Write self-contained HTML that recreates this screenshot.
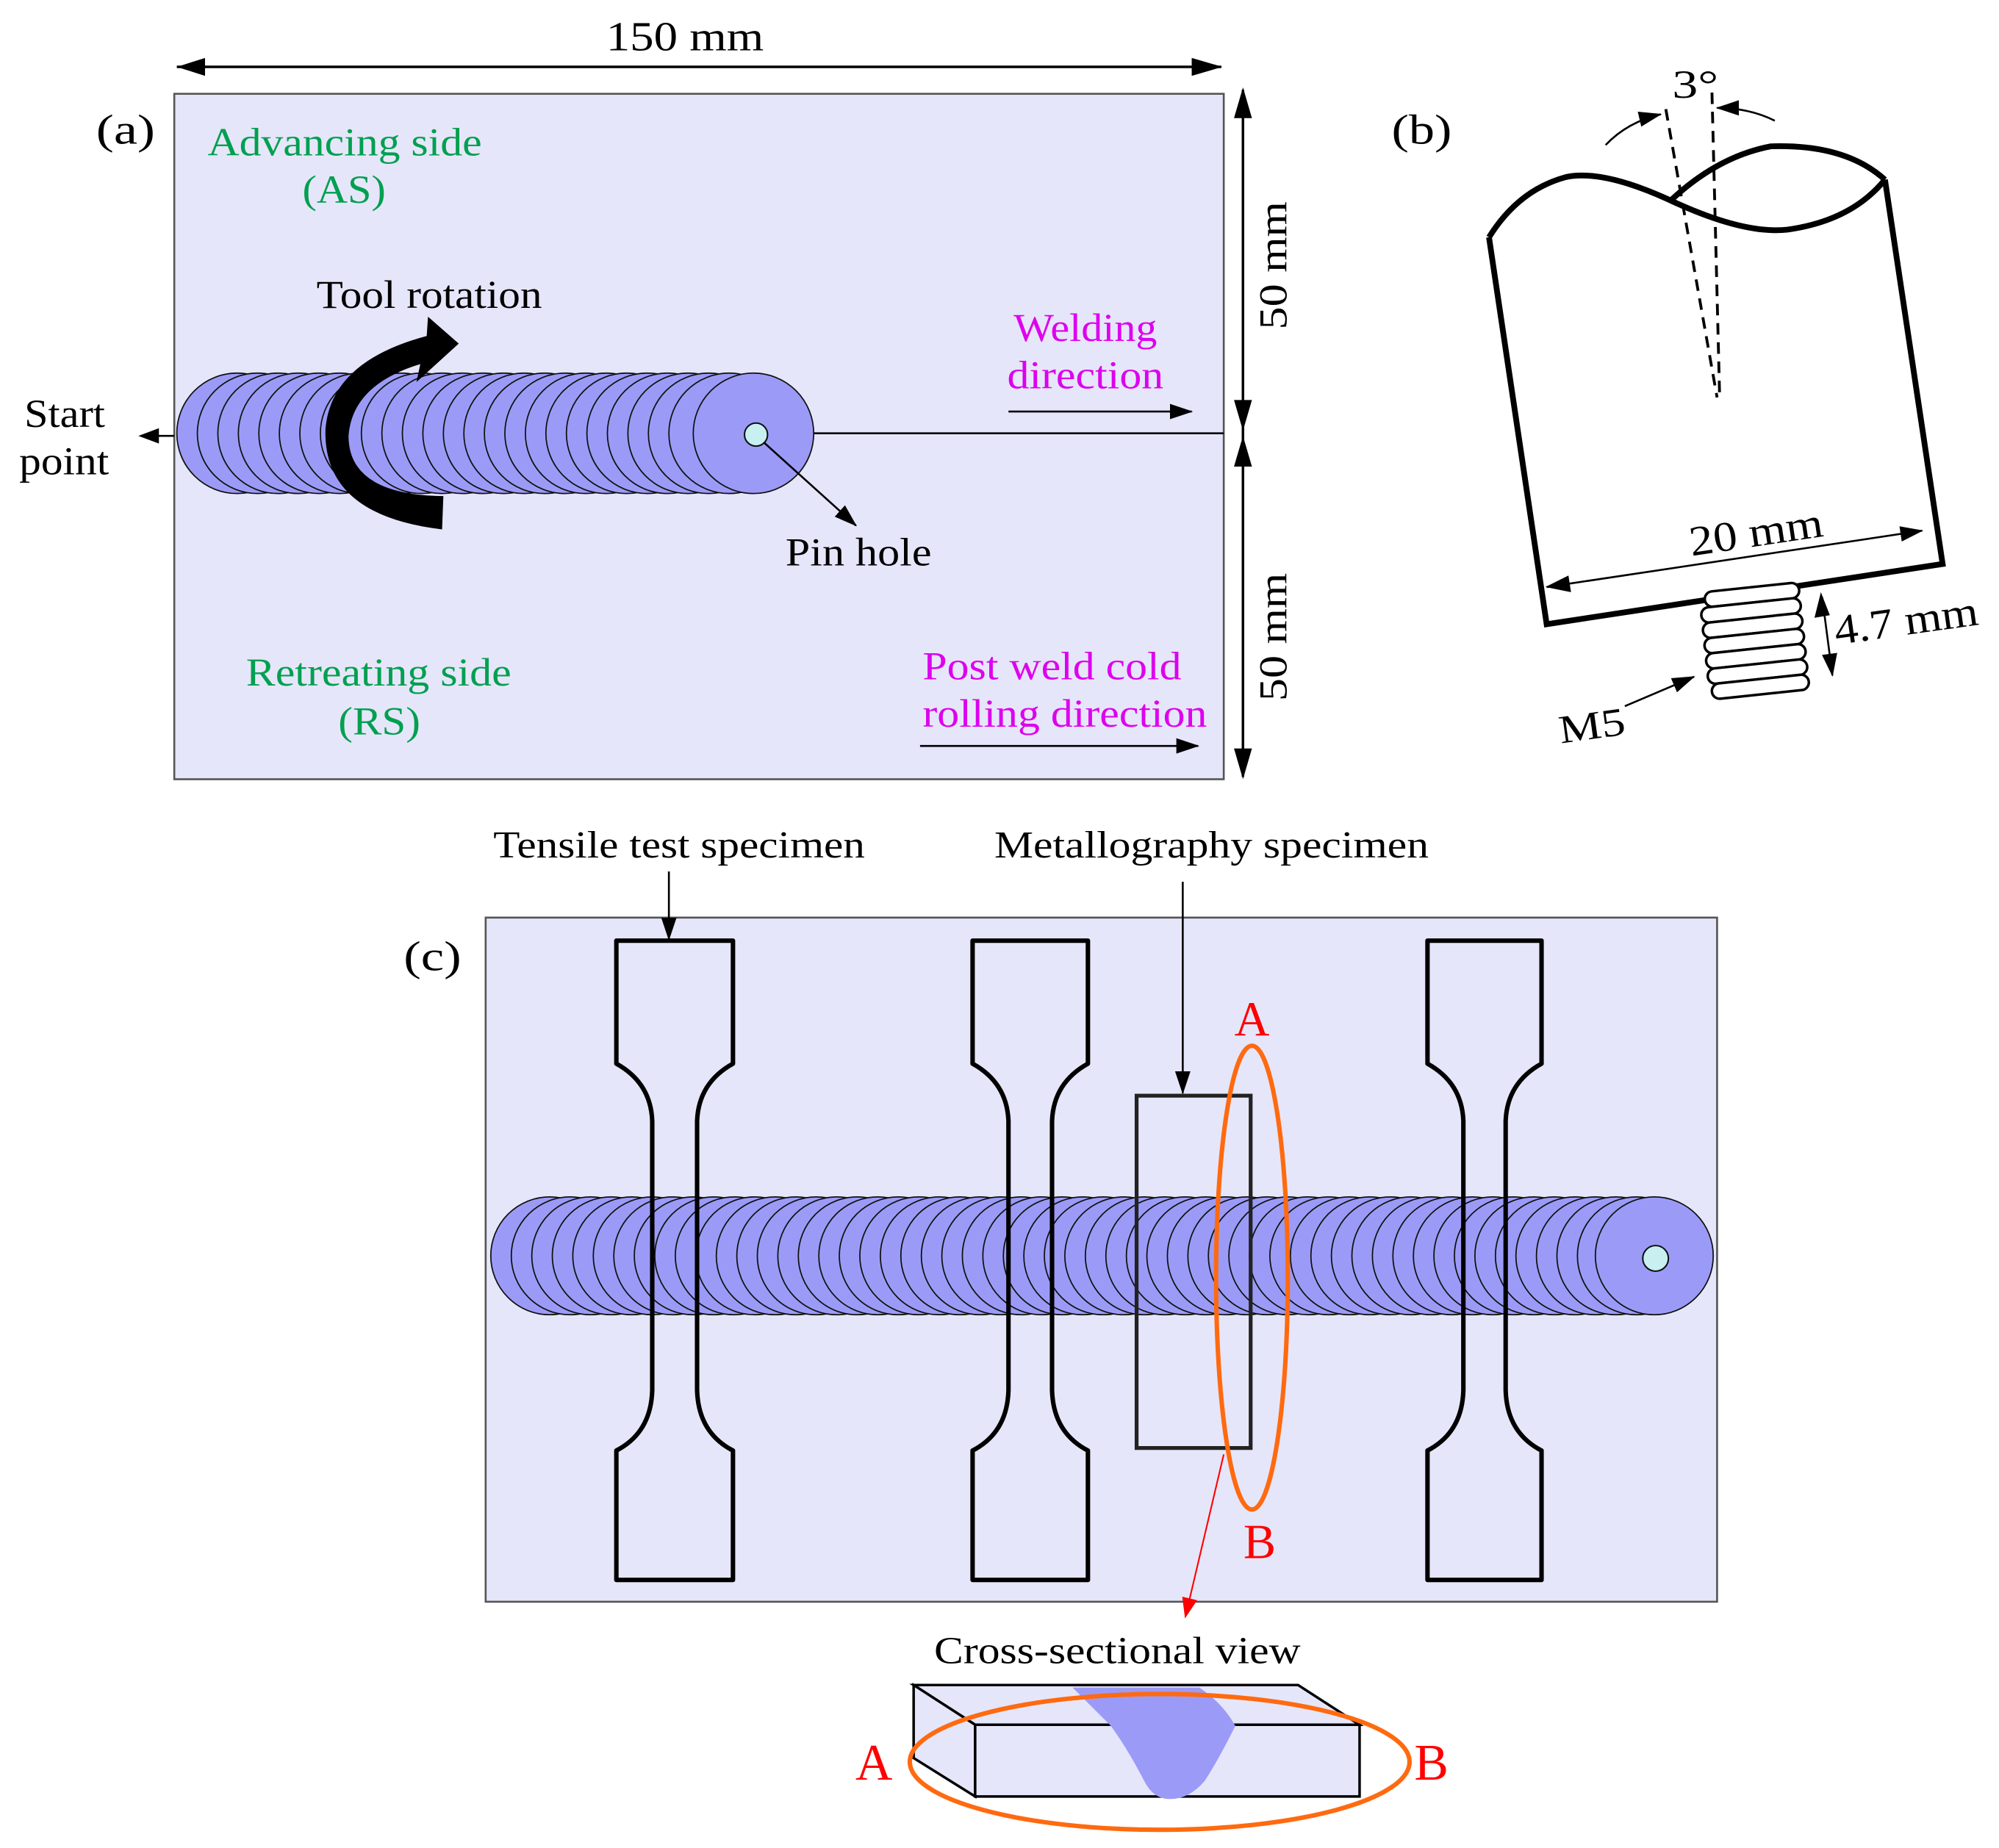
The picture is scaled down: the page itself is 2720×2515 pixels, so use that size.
<!DOCTYPE html>
<html><head><meta charset="utf-8"><style>html,body{margin:0;padding:0;background:#fff}svg{display:block}svg text{font-family:"Liberation Serif","Times New Roman",serif}</style></head>
<body>
<svg width="2720" height="2515" viewBox="0 0 1560 1442" xmlns="http://www.w3.org/2000/svg" font-family="'Liberation Serif', serif">
<defs>
<marker id="ahL" markerWidth="24" markerHeight="14" refX="23" refY="7" orient="auto" markerUnits="userSpaceOnUse"><path d="M0,0 L24,7 L0,14 Z" fill="#000"/></marker>
<marker id="ahM" markerWidth="18" markerHeight="12" refX="17" refY="6" orient="auto" markerUnits="userSpaceOnUse"><path d="M0,0 L18,6 L0,12 Z" fill="#000"/></marker>
<marker id="ahR" markerWidth="16" markerHeight="12" refX="15" refY="6" orient="auto" markerUnits="userSpaceOnUse"><path d="M0,0 L16,6 L0,12 Z" fill="#f00"/></marker>
</defs>

<!-- Panel (a) -->
<text x="473" y="39" font-size="32" textLength="123" lengthAdjust="spacingAndGlyphs">150 mm</text>
<line x1="138" y1="52" x2="953" y2="52" stroke="#000" stroke-width="2" marker-end="url(#ahL)"/>
<path d="M138,52 L160,45 L160,59 Z" fill="#000"/>
<rect x="136" y="73" width="819" height="535" fill="#e6e6fa" stroke="#555" stroke-width="1.5"/>
<text x="75" y="112" font-size="33" textLength="46" lengthAdjust="spacingAndGlyphs">(a)</text>
<g fill="#00a050" font-size="31">
<text x="162" y="121" textLength="214" lengthAdjust="spacingAndGlyphs">Advancing side</text><text x="236" y="158" textLength="65" lengthAdjust="spacingAndGlyphs">(AS)</text>
<text x="192" y="535" textLength="207" lengthAdjust="spacingAndGlyphs">Retreating side</text><text x="264" y="573" textLength="64" lengthAdjust="spacingAndGlyphs">(RS)</text>
</g>
<line x1="635" y1="338" x2="955" y2="338" stroke="#000" stroke-width="1.5"/>
<g fill="#9b9bf7" stroke="#111" stroke-width="1">
<circle cx="185" cy="338" r="47"/><circle cx="201" cy="338" r="47"/><circle cx="217" cy="338" r="47"/><circle cx="233" cy="338" r="47"/><circle cx="249" cy="338" r="47"/><circle cx="265" cy="338" r="47"/><circle cx="281" cy="338" r="47"/><circle cx="297" cy="338" r="47"/><circle cx="313" cy="338" r="47"/><circle cx="329" cy="338" r="47"/><circle cx="345" cy="338" r="47"/><circle cx="361" cy="338" r="47"/><circle cx="377" cy="338" r="47"/><circle cx="393" cy="338" r="47"/><circle cx="409" cy="338" r="47"/><circle cx="425" cy="338" r="47"/><circle cx="441" cy="338" r="47"/><circle cx="457" cy="338" r="47"/><circle cx="473" cy="338" r="47"/><circle cx="489" cy="338" r="47"/><circle cx="505" cy="338" r="47"/><circle cx="521" cy="338" r="47"/><circle cx="537" cy="338" r="47"/><circle cx="553" cy="338" r="47"/><circle cx="569" cy="338" r="47"/><circle cx="588" cy="338" r="47"/>
</g>
<circle cx="590" cy="339" r="9" fill="#c8f0f0" stroke="#111" stroke-width="1.2"/>
<path d="M345,413 Q252,402 254,335 Q258,282 333,262 L334,247 L358,268 L325,298 L328,284 Q275,300 272,340 Q272,386 346,387 Z" fill="#000"/>
<text x="247" y="240" font-size="31" textLength="176" lengthAdjust="spacingAndGlyphs">Tool rotation</text>
<text x="19" y="333" font-size="31" textLength="63" lengthAdjust="spacingAndGlyphs">Start</text>
<text x="15" y="370" font-size="31" textLength="70" lengthAdjust="spacingAndGlyphs">point</text>
<line x1="136" y1="340" x2="110" y2="340" stroke="#000" stroke-width="1.5"/>
<path d="M108,340 L124,334 L124,346 Z" fill="#000"/>
<line x1="596" y1="345" x2="668" y2="410" stroke="#000" stroke-width="1.5" marker-end="url(#ahM)"/>
<text x="613" y="441" font-size="31" textLength="114" lengthAdjust="spacingAndGlyphs">Pin hole</text>
<g fill="#dd00ee" font-size="31">
<text x="791" y="266" textLength="112" lengthAdjust="spacingAndGlyphs">Welding</text><text x="786" y="303" textLength="122" lengthAdjust="spacingAndGlyphs">direction</text>
<text x="720" y="530" textLength="202" lengthAdjust="spacingAndGlyphs">Post weld cold</text><text x="720" y="567" textLength="222" lengthAdjust="spacingAndGlyphs">rolling direction</text>
</g>
<line x1="787" y1="321" x2="930" y2="321" stroke="#000" stroke-width="1.5" marker-end="url(#ahM)"/>
<line x1="718" y1="582" x2="935" y2="582" stroke="#000" stroke-width="1.5" marker-end="url(#ahM)"/>
<line x1="970" y1="70" x2="970" y2="606" stroke="#000" stroke-width="2"/>
<path d="M970,68 L963,92 L977,92 Z M970,336 L963,312 L977,312 Z M970,340 L963,364 L977,364 Z M970,608 L963,584 L977,584 Z" fill="#000"/>
<text transform="translate(1004,257) rotate(-90)" font-size="31" textLength="100" lengthAdjust="spacingAndGlyphs">50 mm</text>
<text transform="translate(1004,547) rotate(-90)" font-size="31" textLength="100" lengthAdjust="spacingAndGlyphs">50 mm</text>

<!-- Panel (b) -->
<text x="1086" y="112" font-size="33" textLength="47" lengthAdjust="spacingAndGlyphs">(b)</text>
<path d="M1471,140 L1516,440 L1207,487 L1162,185" fill="none" stroke="#000" stroke-width="4.5" stroke-linejoin="miter"/>
<path d="M1162,185 Q1185,148 1222,138 Q1250,132 1301,155 Q1360,183 1395,179 Q1445,172 1471,140" fill="none" stroke="#000" stroke-width="4.5"/>
<path d="M1303,157 Q1340,122 1382,114 Q1440,112 1471,140" fill="none" stroke="#000" stroke-width="4.5"/>
<line x1="1300" y1="85" x2="1340" y2="310" stroke="#000" stroke-width="2.2" stroke-dasharray="9,6"/>
<line x1="1336" y1="72" x2="1342" y2="310" stroke="#000" stroke-width="2.2" stroke-dasharray="9,6"/>
<text x="1305" y="76" font-size="31" textLength="36" lengthAdjust="spacingAndGlyphs">3°</text>
<path d="M1253,113 Q1270,95 1296,89" fill="none" stroke="#000" stroke-width="1.5" marker-end="url(#ahM)"/>
<path d="M1385,94 Q1365,84 1340,84" fill="none" stroke="#000" stroke-width="1.5" marker-end="url(#ahM)"/>
<line x1="1207" y1="458" x2="1500" y2="414" stroke="#000" stroke-width="1.5" marker-end="url(#ahM)"/>
<path d="M1206,458 L1224,449 L1226,462 Z" fill="#000"/>
<text transform="translate(1372,426) rotate(-8.5)" font-size="33" text-anchor="middle" textLength="105" lengthAdjust="spacingAndGlyphs">20 mm</text>
<g transform="rotate(-6 1370 500)" fill="#fff" stroke="#000" stroke-width="2">
<rect x="1334" y="458" width="74" height="12" rx="6"/>
<rect x="1330" y="470" width="78" height="12" rx="6"/>
<rect x="1330" y="482" width="78" height="12" rx="6"/>
<rect x="1330" y="494" width="78" height="12" rx="6"/>
<rect x="1330" y="506" width="78" height="12" rx="6"/>
<rect x="1330" y="518" width="78" height="12" rx="6"/>
<rect x="1332" y="530" width="76" height="12" rx="6"/>
</g>
<line x1="1422" y1="466" x2="1430" y2="527" stroke="#000" stroke-width="1.5" marker-end="url(#ahM)"/>
<path d="M1421,462 L1416,482 L1428,480 Z" fill="#000"/>
<text transform="translate(1433,503) rotate(-8)" font-size="33" textLength="113" lengthAdjust="spacingAndGlyphs">4.7 mm</text>
<line x1="1268" y1="551" x2="1322" y2="528" stroke="#000" stroke-width="1.5" marker-end="url(#ahM)"/>
<text transform="translate(1218,580) rotate(-8)" font-size="31" textLength="52" lengthAdjust="spacingAndGlyphs">M5</text>

<!-- Panel (c) -->
<text x="385" y="669" font-size="30" textLength="290" lengthAdjust="spacingAndGlyphs">Tensile test specimen</text>
<text x="776" y="669" font-size="30" textLength="339" lengthAdjust="spacingAndGlyphs">Metallography specimen</text>
<rect x="379" y="716" width="961" height="534" fill="#e6e6fa" stroke="#555" stroke-width="1.5"/>
<text x="315" y="757" font-size="33" textLength="45" lengthAdjust="spacingAndGlyphs">(c)</text>
<g fill="#9b9bf7" stroke="#111" stroke-width="1">
<circle cx="429" cy="980" r="46"/><circle cx="445" cy="980" r="46"/><circle cx="461" cy="980" r="46"/><circle cx="477" cy="980" r="46"/><circle cx="493" cy="980" r="46"/><circle cx="509" cy="980" r="46"/><circle cx="525" cy="980" r="46"/><circle cx="541" cy="980" r="46"/><circle cx="557" cy="980" r="46"/><circle cx="573" cy="980" r="46"/><circle cx="589" cy="980" r="46"/><circle cx="605" cy="980" r="46"/><circle cx="621" cy="980" r="46"/><circle cx="637" cy="980" r="46"/><circle cx="653" cy="980" r="46"/><circle cx="669" cy="980" r="46"/><circle cx="685" cy="980" r="46"/><circle cx="701" cy="980" r="46"/><circle cx="717" cy="980" r="46"/><circle cx="733" cy="980" r="46"/><circle cx="749" cy="980" r="46"/><circle cx="765" cy="980" r="46"/><circle cx="781" cy="980" r="46"/><circle cx="797" cy="980" r="46"/><circle cx="813" cy="980" r="46"/><circle cx="829" cy="980" r="46"/><circle cx="845" cy="980" r="46"/><circle cx="861" cy="980" r="46"/><circle cx="877" cy="980" r="46"/><circle cx="893" cy="980" r="46"/><circle cx="909" cy="980" r="46"/><circle cx="925" cy="980" r="46"/><circle cx="941" cy="980" r="46"/><circle cx="957" cy="980" r="46"/><circle cx="973" cy="980" r="46"/><circle cx="989" cy="980" r="46"/><circle cx="1005" cy="980" r="46"/><circle cx="1021" cy="980" r="46"/><circle cx="1037" cy="980" r="46"/><circle cx="1053" cy="980" r="46"/><circle cx="1069" cy="980" r="46"/><circle cx="1085" cy="980" r="46"/><circle cx="1101" cy="980" r="46"/><circle cx="1117" cy="980" r="46"/><circle cx="1133" cy="980" r="46"/><circle cx="1149" cy="980" r="46"/><circle cx="1165" cy="980" r="46"/><circle cx="1181" cy="980" r="46"/><circle cx="1197" cy="980" r="46"/><circle cx="1213" cy="980" r="46"/><circle cx="1229" cy="980" r="46"/><circle cx="1245" cy="980" r="46"/><circle cx="1261" cy="980" r="46"/><circle cx="1277" cy="980" r="46"/><circle cx="1291" cy="980" r="46"/>
</g>
<circle cx="1292" cy="982" r="10" fill="#c8f0f0" stroke="#111" stroke-width="1.2"/>
<g fill="none" stroke="#000" stroke-width="3.5" stroke-linejoin="round">
<path d="M481,734 L572,734 L572,830 Q545,845 544,875 L544,1085 Q545,1118 572,1132 L572,1233 L481,1233 L481,1132 Q508,1118 509,1085 L509,875 Q508,845 481,830 Z"/>
<path d="M759,734 L849,734 L849,830 Q822,845 821,875 L821,1085 Q822,1118 849,1132 L849,1233 L759,1233 L759,1132 Q786,1118 787,1085 L787,875 Q786,845 759,830 Z"/>
<path d="M1114,734 L1203,734 L1203,830 Q1176,845 1175,875 L1175,1085 Q1176,1118 1203,1132 L1203,1233 L1114,1233 L1114,1132 Q1141,1118 1142,1085 L1142,875 Q1141,845 1114,830 Z"/>
</g>
<rect x="887" y="855" width="89" height="275" fill="none" stroke="#222" stroke-width="3"/>
<line x1="522" y1="680" x2="522" y2="733" stroke="#000" stroke-width="1.5" marker-end="url(#ahM)"/>
<line x1="923" y1="688" x2="923" y2="853" stroke="#000" stroke-width="1.5" marker-end="url(#ahM)"/>
<ellipse cx="977" cy="997" rx="28" ry="181" fill="none" stroke="#ff6a10" stroke-width="3.5"/>
<text x="977" y="808" font-size="38" fill="#f00" text-anchor="middle">A</text>
<text x="983" y="1216" font-size="38" fill="#f00" text-anchor="middle">B</text>
<line x1="955" y1="1135" x2="925" y2="1262" stroke="#f00" stroke-width="1.2" marker-end="url(#ahR)"/>
<text x="729" y="1298" font-size="30" textLength="286" lengthAdjust="spacingAndGlyphs">Cross-sectional view</text>
<polygon points="713,1315 1013,1315 1061,1346 761,1346" fill="#e6e6fa" stroke="#000" stroke-width="2"/>
<polygon points="713,1315 761,1346 761,1402 713,1372" fill="#e6e6fa" stroke="#000" stroke-width="2"/>
<rect x="761" y="1346" width="300" height="56" fill="#e6e6fa" stroke="#000" stroke-width="2"/>
<path d="M837,1317 L936,1317 Q955,1330 964,1347 Q950,1375 940,1390 Q928,1404 913,1404 Q900,1404 893,1390 Q880,1365 867,1347 Q850,1330 837,1317 Z" fill="#9b9bf7"/>
<ellipse cx="905" cy="1375" rx="195" ry="53" fill="none" stroke="#ff6a10" stroke-width="3.5"/>
<text x="682" y="1389" font-size="40" fill="#f00" text-anchor="middle">A</text>
<text x="1117" y="1389" font-size="40" fill="#f00" text-anchor="middle">B</text>
</svg>
</body></html>
